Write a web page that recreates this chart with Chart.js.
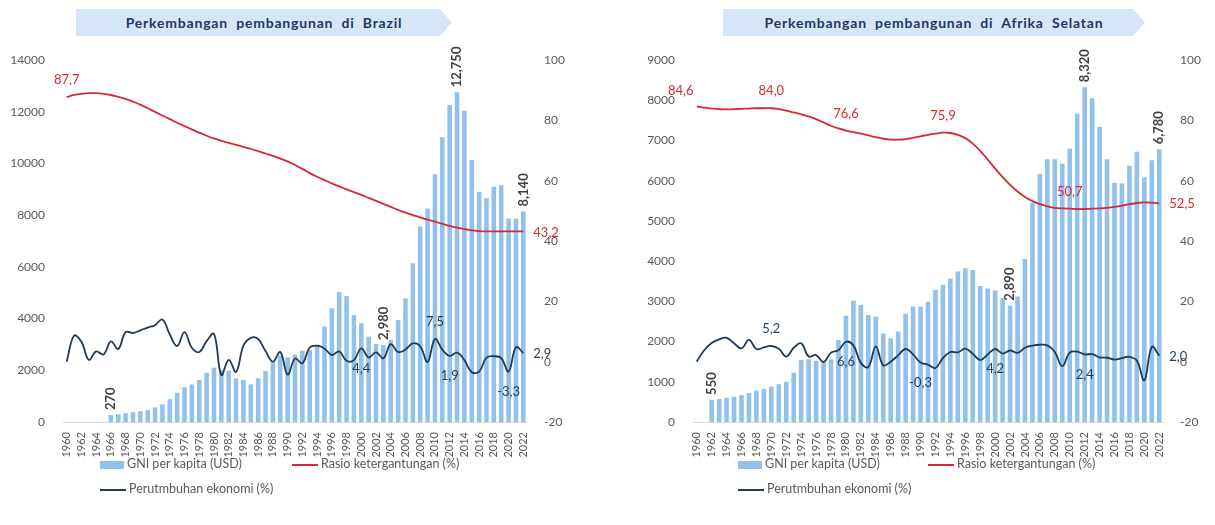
<!DOCTYPE html>
<html>
<head>
<meta charset="utf-8">
<script src="https://cdn.jsdelivr.net/npm/chart.js@4.4.1/dist/chart.umd.min.js"></script>
<style>
  body { margin:0; background:#fff; width:1215px; height:525px; position:relative; overflow:hidden; font-family: Lato, "Noto Sans", sans-serif; }
  canvas { position:absolute; top:0; }
  .banner { position:absolute; top:9px; height:27px; background:#d5e6f8; color:#1f3864; font-weight:bold; font-size:14px;
            line-height:27px; text-align:center; word-spacing:4px; letter-spacing:0.8px;
            clip-path: polygon(0 0, calc(100% - 12px) 0, 100% 50%, calc(100% - 12px) 100%, 0 100%); }
  .leg { position:absolute; font-size:12.5px; color:#595959; white-space:nowrap; }
  .leg span.sw { display:inline-block; vertical-align:middle; margin-right:3px; }
  .box { width:24px; height:8px; background:#92c1ec; }
  .ln { width:26px; height:2px; }
</style>
</head>
<body>
<div class="banner" style="left:76px;width:376px">Perkembangan pembangunan di Brazil</div>
<div class="banner" style="left:723px;width:422px">Perkembangan pembangunan di Afrika Selatan</div>

<canvas id="brChart" width="605" height="460" style="left:0"></canvas>
<canvas id="zaChart" width="605" height="460" style="left:610px"></canvas>

<div class="leg" style="left:100px;top:456px"><span class="sw box"></span>GNI per kapita (USD)</div>
<div class="leg" style="left:292px;top:456px"><span class="sw ln" style="background:#d42a35"></span>Rasio ketergantungan (%)</div>
<div class="leg" style="left:100px;top:481px"><span class="sw ln" style="background:#1f3b57"></span>Perutmbuhan ekonomi (%)</div>
<div class="leg" style="left:738px;top:456px"><span class="sw box"></span>GNI per kapita (USD)</div>
<div class="leg" style="left:928px;top:456px"><span class="sw ln" style="background:#d42a35"></span>Rasio ketergantungan (%)</div>
<div class="leg" style="left:738px;top:481px"><span class="sw ln" style="background:#1f3b57"></span>Perutmbuhan ekonomi (%)</div>

<script>
const years = Array.from({length: 63}, (_, i) => String(1960 + i));

// Brazil
const brGni = [null,null,null,null,null,null,270,300,340,380,420,460,560,680,880,1130,1340,1450,1620,1900,2100,2010,1985,1690,1625,1455,1690,1970,2330,2565,2500,2600,2760,2780,2980,3690,4400,5040,4870,4140,3820,3300,3020,2980,3170,3950,4780,6140,7560,8260,9580,11010,12260,12750,12040,10130,8900,8650,9100,9160,7870,7870,8140];
const brRatio = [87.7,88.4,88.8,89.0,89.0,88.8,88.4,87.8,87.1,86.2,85.2,84.0,82.8,81.6,80.4,79.2,78.1,77.0,75.9,74.9,74.0,73.2,72.5,71.9,71.2,70.5,69.8,69.0,68.2,67.3,66.4,65.2,63.9,62.5,61.3,60.2,59.1,58.1,57.1,56.2,55.3,54.3,53.3,52.3,51.3,50.3,49.4,48.6,47.8,47.1,46.4,45.7,45.0,44.4,43.9,43.5,43.3,43.2,43.2,43.2,43.2,43.2,43.2];
const brGrowth = [0,8.6,6.6,0.6,3.4,2.4,6.7,4.2,9.8,9.5,10.4,11.3,12.1,14.0,9.0,5.2,9.8,4.6,3.2,6.8,9.2,-4.4,0.6,-3.4,5.3,7.9,7.5,3.5,0.0,3.2,-4.3,1.0,-0.5,4.7,5.3,4.4,2.2,3.4,0.3,0.5,4.4,1.4,3.1,1.1,5.8,3.2,4.0,6.1,5.1,-0.1,7.5,4.0,1.9,3.0,0.5,-3.5,-3.3,1.3,1.8,1.2,-3.3,4.8,2.9];

// Afrika Selatan
const zaGni = [null,null,550,570,600,630,670,720,780,820,880,940,1000,1230,1540,1560,1520,1510,1560,2040,2640,3020,2910,2660,2620,2200,2080,2250,2690,2870,2870,2990,3280,3410,3570,3740,3820,3780,3380,3320,3270,3080,2890,3120,4050,5450,6170,6530,6530,6420,6800,7670,8320,8050,7340,6530,5950,5930,6370,6720,6080,6510,6780];
const zaRatio = [84.6,84.2,83.9,83.7,83.6,83.7,83.8,83.9,84.0,84.0,84.0,83.7,83.2,82.6,82.0,81.3,80.4,79.3,78.2,77.3,76.6,76.1,75.6,75.0,74.4,73.9,73.6,73.6,73.8,74.2,74.7,75.2,75.6,75.9,75.8,75.2,74.1,72.3,69.9,67.0,64.0,61.2,58.6,56.4,54.6,53.2,52.2,51.5,51.0,50.8,50.7,50.6,50.6,50.7,50.8,51.0,51.3,51.7,52.2,52.6,52.8,52.7,52.5];
const zaGrowth = [0,3.8,6.2,7.4,7.9,6.1,4.4,7.2,4.2,4.7,5.2,4.3,1.7,4.6,6.1,1.7,2.2,-0.1,3.0,3.8,6.6,5.4,-0.4,-1.8,5.1,-1.2,0.0,2.1,4.2,2.4,-0.3,-1.0,-2.1,1.2,3.2,3.1,4.3,2.6,0.5,2.4,4.2,2.7,3.7,2.9,4.6,5.3,5.6,5.4,3.2,-1.5,3.0,3.3,2.4,2.5,1.4,1.3,0.7,1.2,1.6,0.3,-6.2,4.9,2.0];

// which points get a value label
const brBarLabels = [6, 43, 53, 62];
const brRatioLabels = [[0, 'above'], [62, 'right']];
const brGrowthLabels = [[40, 'below'], [50, 'above'], [52, 'below'], [60, 'below'], [62, 'right']];
const zaBarLabels = [2, 42, 52, 62];
const zaRatioLabels = [[0, 'aboveLeft'], [10, 'above'], [20, 'above'], [33, 'above'], [50, 'above'], [62, 'right']];
const zaGrowthLabels = [[10, 'above'], [20, 'below'], [30, 'below'], [40, 'below'], [52, 'below'], [62, 'right']];

const BAR_COLOR = '#92c1ec';
const RED = '#d42a35';
const DARK = '#1f3b57';
const FONT = 'Lato, "Noto Sans", sans-serif';

function fmtDec(v) { return v.toFixed(1).replace('.', ','); }

const valueLabels = {
  id: 'valueLabels',
  afterDatasetsDraw(chart, args, opts) {
    const ctx = chart.ctx;
    ctx.save();
    // bar labels, vertical
    const bm = chart.getDatasetMeta(0);
    ctx.font = 'bold 13px ' + FONT;
    ctx.fillStyle = '#404040';
    opts.bars.forEach(i => {
      const el = bm.data[i];
      const v = chart.data.datasets[0].data[i];
      ctx.save();
      ctx.translate(el.x, el.y - 5);
      ctx.rotate(-Math.PI / 2);
      ctx.textAlign = 'left';
      ctx.textBaseline = 'middle';
      ctx.fillText(v.toLocaleString('en-US'), 0, 0);
      ctx.restore();
    });
    // line labels
    ctx.font = '13px ' + FONT;
    opts.lines.forEach(spec => {
      const meta = chart.getDatasetMeta(spec.ds);
      ctx.fillStyle = spec.color;
      spec.items.forEach(([i, pos]) => {
        const el = meta.data[i];
        const txt = fmtDec(chart.data.datasets[spec.ds].data[i]);
        ctx.textBaseline = 'middle';
        let x = el.x, y = el.y;
        if (pos === 'above') { ctx.textAlign = 'center'; y -= 17; }
        else if (pos === 'below') { ctx.textAlign = 'center'; y += 20; }
        else if (pos === 'right') { ctx.textAlign = 'left'; x += 10; y += 1; }
        else if (pos === 'aboveLeft') { ctx.textAlign = 'center'; x -= 16; y -= 16; }
        ctx.fillText(txt, x, y);
      });
    });
    ctx.restore();
  }
};

function makeChart(id, gni, ratio, growth, gniMax, gniStep, leftW, rightW, barLbl, ratioLbl, growthLbl) {
  return new Chart(document.getElementById(id), {
    type: 'bar',
    data: {
      labels: years,
      datasets: [
        { label: 'GNI per kapita (USD)', data: gni, backgroundColor: BAR_COLOR,
          barPercentage: 0.62, categoryPercentage: 1, yAxisID: 'y', order: 3 },
        { type: 'line', label: 'Rasio ketergantungan (%)', data: ratio, borderColor: RED,
          borderWidth: 1.8, pointRadius: 0, tension: 0.4, yAxisID: 'y1', order: 1 },
        { type: 'line', label: 'Perutmbuhan ekonomi (%)', data: growth, borderColor: DARK,
          borderWidth: 1.8, pointRadius: 0, tension: 0.4, yAxisID: 'y1', order: 2 }
      ]
    },
    options: {
      responsive: false,
      animation: false,
      layout: { padding: { top: 60, left: 0, right: 0, bottom: 0 } },
      plugins: {
        legend: { display: false },
        tooltip: { enabled: false },
        valueLabels: {
          bars: barLbl,
          lines: [
            { ds: 1, color: RED, items: ratioLbl },
            { ds: 2, color: DARK, items: growthLbl }
          ]
        }
      },
      scales: {
        x: {
          grid: { display: false },
          border: { display: true, color: '#d9d9d9' },
          afterFit(s) { s.height = 38; },
          ticks: {
            autoSkip: false, minRotation: 90, maxRotation: 90, padding: 2,
            color: '#595959', font: { size: 11, family: FONT },
            callback(v, i) { return i % 2 === 0 ? this.getLabelForValue(v) : ''; }
          }
        },
        y: {
          position: 'left', min: 0, max: gniMax,
          grid: { display: false }, border: { display: false },
          afterFit(s) { s.width = leftW; },
          ticks: { stepSize: gniStep, padding: 10, color: '#595959', font: { size: 12, family: FONT },
                   callback: v => String(v) }
        },
        y1: {
          position: 'right', min: -20, max: 100,
          grid: { display: false }, border: { display: false },
          afterFit(s) { s.width = rightW; },
          ticks: { stepSize: 20, padding: 9, color: '#595959', font: { size: 12, family: FONT },
                   callback: v => String(v) }
        }
      }
    },
    plugins: [valueLabels]
  });
}

makeChart('brChart', brGni, brRatio, brGrowth, 14000, 2000, 63, 78, brBarLabels, brRatioLabels, brGrowthLabels);
makeChart('zaChart', zaGni, zaRatio, zaGrowth, 9000, 1000, 83, 52, zaBarLabels, zaRatioLabels, zaGrowthLabels);
</script>
</body>
</html>
